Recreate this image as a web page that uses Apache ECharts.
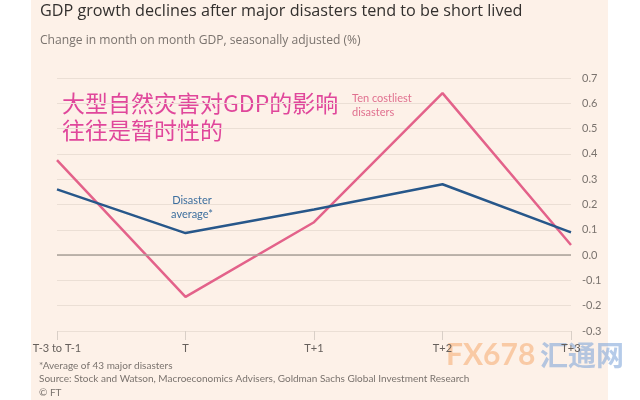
<!DOCTYPE html>
<html><head><meta charset="utf-8">
<script src="https://cdn.jsdelivr.net/npm/echarts@6/dist/echarts.min.js"></script>
<style>html,body{margin:0;padding:0;background:#fff}#c{width:640px;height:400px}</style>
</head><body><div id="c"></div>
<script>
const categories = ['T-3 to T-1', 'T', 'T+1', 'T+2', 'T+3'];
const costliest = [0.375, -0.165, 0.13, 0.64, 0.04];
const average = [0.26, 0.087, 0.18, 0.28, 0.09];
const yTicks = [-0.3, 0.7, 0.1];

const font = 'Lato, "Open Sans", sans-serif';
const tfont = '"Open Sans", Lato, sans-serif';
const chart = echarts.init(document.getElementById('c'), null, {renderer: 'canvas'});
chart.setOption({
  backgroundColor: '#ffffff',
  animation: false,
  textStyle: {fontFamily: font},
  graphic: [
    {type: 'rect', z: -10, shape: {x: 31, y: 0, width: 577, height: 400}, style: {fill: '#fdf1e8'}},
    {type: 'text', left: 40, top: 3, style: {text: 'GDP growth declines after major disasters tend to be short lived', fontSize: 16.2, fill: '#33302e', fontFamily: tfont}},
    {type: 'text', left: 40, top: 35, style: {text: 'Change in month on month GDP, seasonally adjusted (%)', fontSize: 12.1, fill: '#7a736e', fontFamily: tfont}},
    {type: 'text', left: 62, top: 90, style: {text: '大型自然灾害对GDP的影响\n往往是暂时性的', fontSize: 23, lineHeight: 27, fill: '#e0479b', fontFamily: '"Noto Sans CJK SC", sans-serif'}},
    {type: 'text', left: 352, top: 91, style: {text: 'Ten costliest\ndisasters', fontSize: 11, lineHeight: 14, fill: '#e0708f', fontFamily: font}},
    {type: 'text', style: {x: 192, y: 193, text: 'Disaster\naverage*', fontSize: 11, lineHeight: 14, fill: '#3d6f9e', align: 'center', verticalAlign: 'top', fontFamily: font}},
    {type: 'text', left: 39, top: 359, style: {text: '*Average of 43 major disasters\nSource: Stock and Watson, Macroeconomics Advisers, Goldman Sachs Global Investment Research\n© FT', fontSize: 10, lineHeight: 13.5, fill: '#7a736e', fontFamily: font}},
    {type: 'text', left: 446, top: 340, style: {text: 'FX678', fontSize: 30, fill: 'rgba(245,170,110,0.55)', fontFamily: font, fontWeight: 'bold'}},
    {type: 'text', left: 540, top: 341, style: {text: '汇通网', fontSize: 28, fill: 'rgba(120,160,215,0.55)', fontFamily: '"Noto Sans CJK SC", sans-serif', fontWeight: 'bold'}}
  ],
  grid: {left: 57, right: 69, top: 78, bottom: 69, containLabel: false},
  xAxis: {
    type: 'category', data: categories, boundaryGap: false,
    axisLine: {show: false, onZero: false},
    axisTick: {show: true, alignWithLabel: true, length: 9, lineStyle: {color: '#d9cfc7'}},
    axisLabel: {color: '#66605c', fontSize: 11, margin: 12, fontFamily: font},
    splitLine: {show: false}
  },
  yAxis: {
    type: 'value', position: 'right', min: yTicks[0], max: yTicks[1], interval: yTicks[2],
    axisLine: {show: false}, axisTick: {show: false},
    axisLabel: {color: '#7a736e', fontSize: 11, margin: 11, align: 'left', fontFamily: font,
      formatter: v => v.toFixed(1)},
    splitLine: {show: true, lineStyle: {color: '#ebdfd5', width: 1}}
  },
  series: [
    {name: 'Ten costliest disasters', type: 'line', data: costliest, symbol: 'none',
      lineStyle: {color: '#e3628a', width: 2.5}, z: 3,
      markLine: {silent: true, symbol: 'none', label: {show: false},
        lineStyle: {color: '#a8a099', type: 'solid', width: 1.5}, data: [{yAxis: 0}]}},
    {name: 'Disaster average', type: 'line', data: average, symbol: 'none',
      lineStyle: {color: '#27578a', width: 2.5}, z: 4}
  ]
});
</script></body></html>
